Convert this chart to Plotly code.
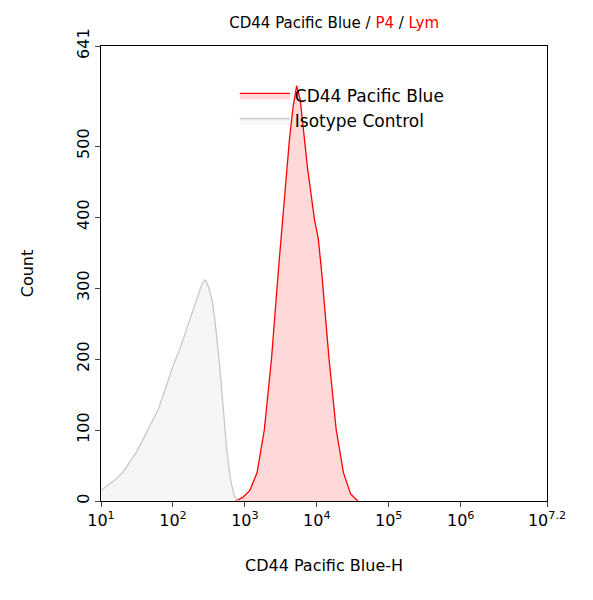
import plotly.graph_objects as go

# histogram data (log10 of intensity, count)
iso_log = [1.0, 1.1, 1.2, 1.3, 1.4, 1.5, 1.6, 1.7, 1.8, 1.9, 2.0, 2.1, 2.2, 2.3,
           2.35, 2.4, 2.45, 2.5, 2.55, 2.6, 2.65, 2.7, 2.75, 2.8, 2.85, 2.9]
iso_cnt = [15, 22, 30, 40, 55, 70, 90, 110, 130, 160, 190, 215, 245, 275,
           290, 305, 312, 300, 280, 240, 190, 130, 70, 30, 8, 0]
cd44_log = [2.9, 3.0, 3.1, 3.2, 3.3, 3.4, 3.5, 3.6, 3.65, 3.7, 3.75, 3.8, 3.85,
            3.9, 4.0, 4.05, 4.1, 4.2, 4.3, 4.4, 4.5, 4.6]
cd44_cnt = [0, 5, 15, 40, 100, 200, 330, 450, 510, 555, 585, 565, 520,
            470, 395, 370, 320, 200, 100, 40, 10, 0]
tick_exp = [1, 2, 3, 4, 5, 6, 7.2]
tick_txt = ["10<sup>1</sup>", "10<sup>2</sup>", "10<sup>3</sup>", "10<sup>4</sup>",
            "10<sup>5</sup>", "10<sup>6</sup>", "10<sup>7.2</sup>"]

fig = go.Figure()
fig.add_trace(go.Scatter(x=[10 ** (v - 0.03) for v in cd44_log], y=cd44_cnt, name="CD44 Pacific Blue",
                         mode="lines", line=dict(color="red", width=1.3),
                         fill="tozeroy", fillcolor="rgba(255,0,0,0.15)"))
fig.add_trace(go.Scatter(x=[10 ** v for v in iso_log], y=iso_cnt, name="Isotype Control",
                         mode="lines", line=dict(color="#c8c8c8", width=1.3),
                         fill="tozeroy", fillcolor="rgba(220,220,220,0.25)"))

fig.update_layout(
    width=593, height=600, plot_bgcolor="white", paper_bgcolor="white",
    margin=dict(l=93, r=54, t=38, b=107),
    font=dict(family="DejaVu Sans", size=16, color="black"),
    title=dict(text="CD44 Pacific Blue / <span style='color:red'>P4</span> / <span style='color:red'>Lym</span>",
               x=0.55, xanchor="center", y=0.985, font=dict(size=15)),
    legend=dict(x=0.3, y=0.93, bgcolor="rgba(0,0,0,0)", font=dict(size=17), itemwidth=50),
)
fig.update_xaxes(type="log", range=[1, 7.2], tickvals=[10 ** v for v in tick_exp], ticktext=tick_txt,
                 showline=True, linecolor="black", mirror=True, ticks="outside", showgrid=False,
                 title=dict(text="CD44 Pacific Blue-H", font=dict(size=16), standoff=30))
fig.update_yaxes(range=[0, 641], tickvals=[0, 100, 200, 300, 400, 500, 641], tickangle=-90,
                 showline=True, linecolor="black", mirror=True, ticks="outside", showgrid=False,
                 zeroline=False, title=dict(text="Count", font=dict(size=16), standoff=35))
fig.write_html("out.html")
